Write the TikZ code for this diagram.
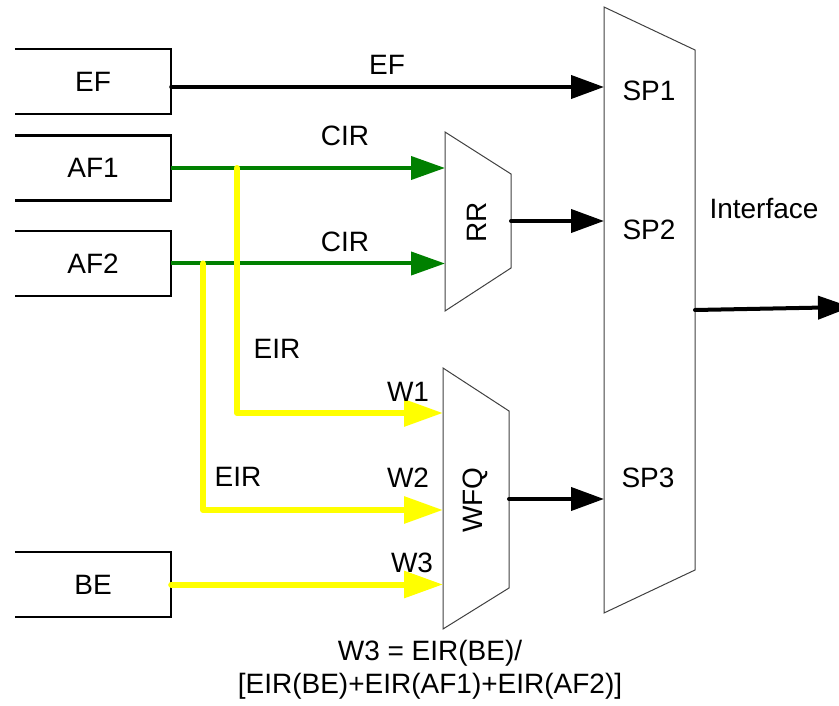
\documentclass[tikz,border=0pt]{standalone}
\usepackage{fontspec}
\setmainfont{Liberation Sans}
\usetikzlibrary{arrows.meta}
\definecolor{cirgreen}{RGB}{0,128,0}
\definecolor{eiryellow}{RGB}{255,255,0}

\begin{document}
\begin{tikzpicture}[x=1pt,y=-1pt,font=\fontsize{28}{33}\selectfont,
  queue/.style={minimum width=156pt,minimum height=65pt,inner sep=0pt},
  qline/.style={black,line width=2.5pt,line join=miter},
  mux/.style={draw=black!75,line width=1pt},
  lab/.style={inner sep=0pt},
  vlab/.style={inner sep=0pt,rotate=90},
  blkflow/.style={-{Triangle[length=33pt,width=23pt]},black,line width=4pt,line cap=round},
  cirflow/.style={-{Triangle[length=34pt,width=23pt]},cirgreen,line width=4pt},
  eirflow/.style={-{Triangle[length=39pt,width=26pt]},eiryellow,line width=6pt,line cap=round,line join=round}]
\useasboundingbox (0,0) rectangle (839,706);

% input queues
\node[queue] (ef) at (93,81.5) {EF};
\node[queue] (af1) at (93,168) {AF1};
\node[queue] (af2) at (93,263.5) {AF2};
\node[queue] (be) at (93,584.5) {BE};
\foreach \q in {ef,af1,af2,be}
  \draw[qline] (\q.north west) -- (\q.north east) -- (\q.south east) -- (\q.south west);

% schedulers
\draw[mux] (604,7) -- (695,50) -- (695,570) -- (604,613) -- cycle;
\node[lab] (sp1) at (649,91) {SP1};
\node[lab] (sp2) at (649,230) {SP2};
\node[lab] (sp3) at (648,478) {SP3};
\draw[mux] (445,132) -- (511,174) -- (511,268) -- (445,311) -- cycle; \node[vlab] (rr) at (477,222) {RR};
\draw[mux] (443,368) -- (509,411) -- (509,588) -- (443,629) -- cycle; \node[vlab] (wfq) at (475,500) {WFQ};
\coordinate (spin1) at (604,87); \coordinate (spin2) at (604,221); \coordinate (spin3) at (604,499);
\coordinate (spout) at (695,310); \coordinate (iface) at (851,307);
\coordinate (rrin) at (445,220); \coordinate (rrout) at (511,221);
\coordinate (wfqin1) at (443,413); \coordinate (wfqin2) at (443,510); \coordinate (wfqout) at (509,499);
\coordinate (j1) at (237,168); \coordinate (j2) at (203,263.5);

% committed rate
\draw[cirflow] (af1.east) -- (af1.east -| rrin);
\draw[cirflow] (af2.east) -- (af2.east -| rrin);
% excess rate
\draw[eirflow] (j1) |- (wfqin1);
\draw[eirflow] (j2) |- (wfqin2);
\draw[eirflow] (be.east) -- (be.east -| wfqin1);
% strict priority
\draw[blkflow] ([yshift=-5.5pt]ef.east) -- (spin1);
\draw[blkflow] (rrout) -- (spin2);
\draw[blkflow] (wfqout) -- (spin3);
\draw[blkflow] (spout) -- (iface);

% labels
\node[lab] (lef) at (387,65) {EF};
\node[lab] (lcir1) at (345,136) {CIR};
\node[lab] (lcir2) at (345,242) {CIR};
\node[lab] (leir1) at (277,349) {EIR};
\node[lab] (leir2) at (238,477) {EIR};
\node[lab] (lw1) at (408,392) {W1};
\node[lab] (lw2) at (408,478) {W2};
\node[lab] (lw3) at (412,563) {W3};
\node[lab] (liface) at (764,209) {Interface};
\node[lab,align=center] (lform) at (430,670) {W3 = EIR(BE)/\\\relax[EIR(BE)+EIR(AF1)+EIR(AF2)]};
\end{tikzpicture}
\end{document}
